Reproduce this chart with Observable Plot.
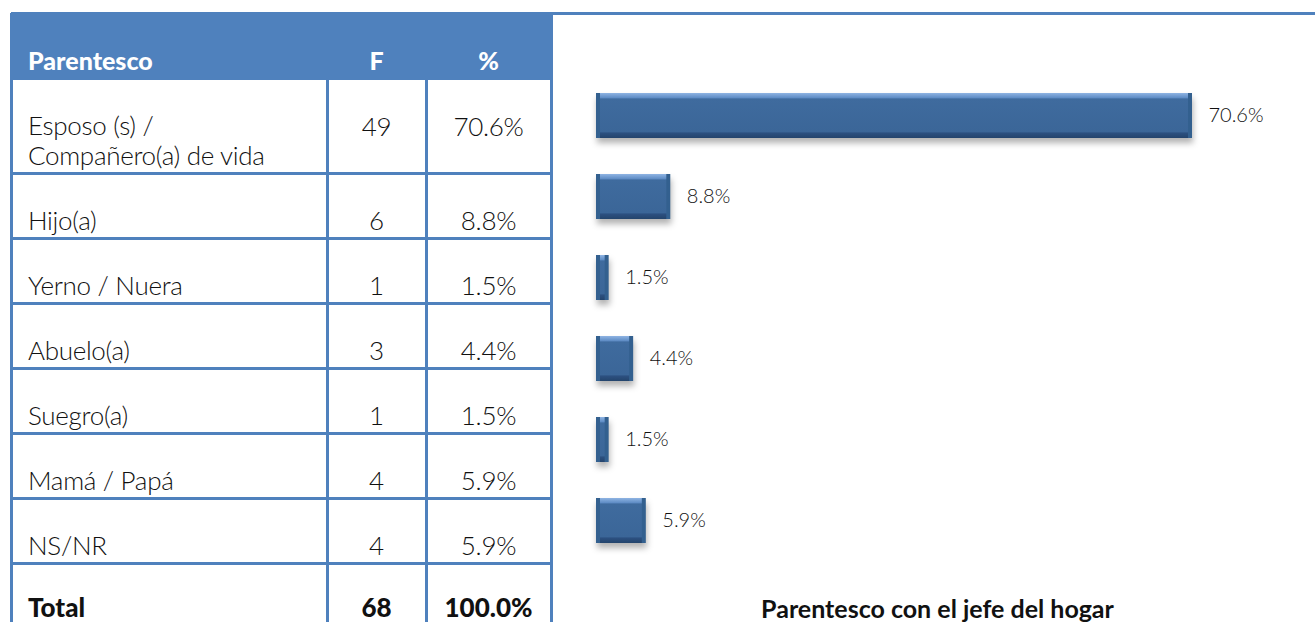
<!DOCTYPE html>
<html><head><meta charset="utf-8">
<script src="https://cdn.jsdelivr.net/npm/d3@7"></script>
<script src="https://cdn.jsdelivr.net/npm/@observablehq/plot@0.6"></script>
<style>
body{margin:0;background:#fff;font-family:Lato,"Open Sans",sans-serif;}
#wrap{position:relative;width:1315px;height:622px;overflow:hidden;background:#fff;}
.ln{position:absolute;background:#4F81BD;}
.cell{position:absolute;color:#111;font-size:26px;font-weight:300;line-height:30px;display:flex;box-sizing:border-box;letter-spacing:-0.3px;}
.hdr{position:absolute;color:#fff;font-weight:900;font-size:25px;line-height:30px;}
#chart{position:absolute;left:560px;top:50px;}
#title{position:absolute;left:560px;width:755px;top:593px;text-align:center;font-size:25px;font-weight:700;line-height:30px;color:#111;}
</style>
</head><body>
<div id="wrap"></div>
<script>
// ---- data ----
const parentesco = ["Esposo (s) /\nCompañero(a) de vida", "Hijo(a)", "Yerno / Nuera", "Abuelo(a)", "Suegro(a)", "Mamá / Papá", "NS/NR"];
const frecuencia = [49, 6, 1, 3, 1, 4, 4];
const porcentaje = [70.6, 8.8, 1.5, 4.4, 1.5, 5.9, 5.9];
const headers = ["Parentesco", "F", "%"];
const totalLabel = "Total";
const totalF = 68;
const totalPct = 100.0;
const chartCategorias = ["Esposo (s) / Compañero(a) de vida", "Hijo(a)", "Yerno / Nuera", "Abuelo(a)", "Suegro(a)", "Mamá / Papá"];
const chartValores = [70.6, 8.8, 1.5, 4.4, 1.5, 5.9];
const chartTitle = "Parentesco con el jefe del hogar";

const fmt = v => d3.format(".1f")(v) + "%";
const wrap = document.getElementById("wrap");

// ---- table layout ----
const tLeft = 11, tRight = 552, tTop = 13, hdrBottom = 78;
const colX = [11, 327, 426, 551];
const rowEdges = [78, 173, 238, 303, 368, 433, 498, 563, 625];

function div(cls, css, html) {
  const d = document.createElement("div");
  d.className = cls;
  Object.assign(d.style, css);
  if (html !== undefined) d.innerHTML = html;
  wrap.appendChild(d);
  return d;
}
// header band + top line
div("ln", {left: tLeft + "px", top: tTop + "px", width: (tRight - tLeft) + "px", height: (hdrBottom - tTop) + "px"});
div("ln", {left: tLeft + "px", top: (tTop - 1) + "px", width: (1315 - tLeft) + "px", height: "3px"});
// horizontal lines
rowEdges.slice(0, -1).forEach(y => div("ln", {left: tLeft + "px", top: (y - 1) + "px", width: (tRight - tLeft + 1) + "px", height: "3px"}));
// vertical lines
colX.forEach((x, i) => {
  const y0 = (i === 0 || i === 3) ? tTop : hdrBottom;
  div("ln", {left: (x - 1) + "px", top: y0 + "px", width: "3px", height: (622 - y0) + "px"});
});
// header text
div("hdr", {left: "28px", top: "45px"}, headers[0]);
div("hdr", {left: colX[1] + "px", width: (colX[2] - colX[1]) + "px", top: "45px", textAlign: "center"}, headers[1]);
div("hdr", {left: colX[2] + "px", width: (colX[3] - colX[2]) + "px", top: "45px", textAlign: "center"}, headers[2]);

// rows
const rows = parentesco.map((p, i) => ({label: p, f: String(frecuencia[i]), pct: fmt(porcentaje[i]), bold: false}));
rows.push({label: totalLabel, f: String(totalF), pct: fmt(totalPct), bold: true});
rows.forEach((r, i) => {
  const top = rowEdges[i], h = rowEdges[i + 1] - rowEdges[i];
  const base = {top: top + "px", height: h + "px", alignItems: "flex-end", paddingBottom: "3px", fontWeight: r.bold ? "900" : "300", letterSpacing: r.bold ? "0px" : "-0.3px"};
  div("cell", Object.assign({}, base, {left: "28px", width: "295px", whiteSpace: "nowrap"}), r.label.replace(/\n/g, "<br>"));
  const numAlign = i === 0 ? {alignItems: "center", paddingBottom: "0px"} : {};
  div("cell", Object.assign({}, base, numAlign, {left: colX[1] + "px", width: (colX[2] - colX[1]) + "px", justifyContent: "center"}), r.f);
  div("cell", Object.assign({}, base, numAlign, {left: colX[2] + "px", width: (colX[3] - colX[2]) + "px", justifyContent: "center"}), r.pct);
});

// ---- bar chart ----
const data = chartCategorias.map((c, i) => ({cat: c, v: chartValores[i]}));
const chart = Plot.plot({
  width: 755, height: 540,
  marginLeft: 36, marginRight: 123, marginTop: 7, marginBottom: 11,
  x: {domain: [0, 70.6], axis: null},
  y: {domain: chartCategorias, axis: null, padding: 0.44},
  style: {fontFamily: "Lato, sans-serif", fontSize: "20px", fontWeight: 300, background: "transparent", overflow: "visible"},
  marks: [
    Plot.barX(data, {x: "v", y: "cat", fill: "#33608f"}),
    Plot.barX(data, {x: "v", y: "cat", fill: "url(#bevelV)", insetLeft: 4, insetRight: 4}),
    Plot.text(data, {x: "v", y: "cat", text: d => fmt(d.v), textAnchor: "start", dx: 16, fill: "#111"})
  ]
});
chart.id = "chart";
const svg = d3.select(chart);
const defs = svg.insert("defs", ":first-child");
const g = defs.append("linearGradient").attr("id", "bevelV").attr("x1", 0).attr("y1", 0).attr("x2", 0).attr("y2", 1);
[[0, "#8fb4e3"], [0.11, "#5d8bc4"], [0.13, "#3f6b9e"], [0.86, "#3b6698"], [0.89, "#2c5080"], [1, "#24446c"]]
  .forEach(([o, c]) => g.append("stop").attr("offset", o).attr("stop-color", c));
svg.select('g[aria-label="bar"]').style("filter", "drop-shadow(1px 5px 3px rgba(0,0,0,0.3))");
wrap.appendChild(chart);

const t = document.createElement("div");
t.id = "title";
t.textContent = chartTitle;
wrap.appendChild(t);
</script>
</body></html>
